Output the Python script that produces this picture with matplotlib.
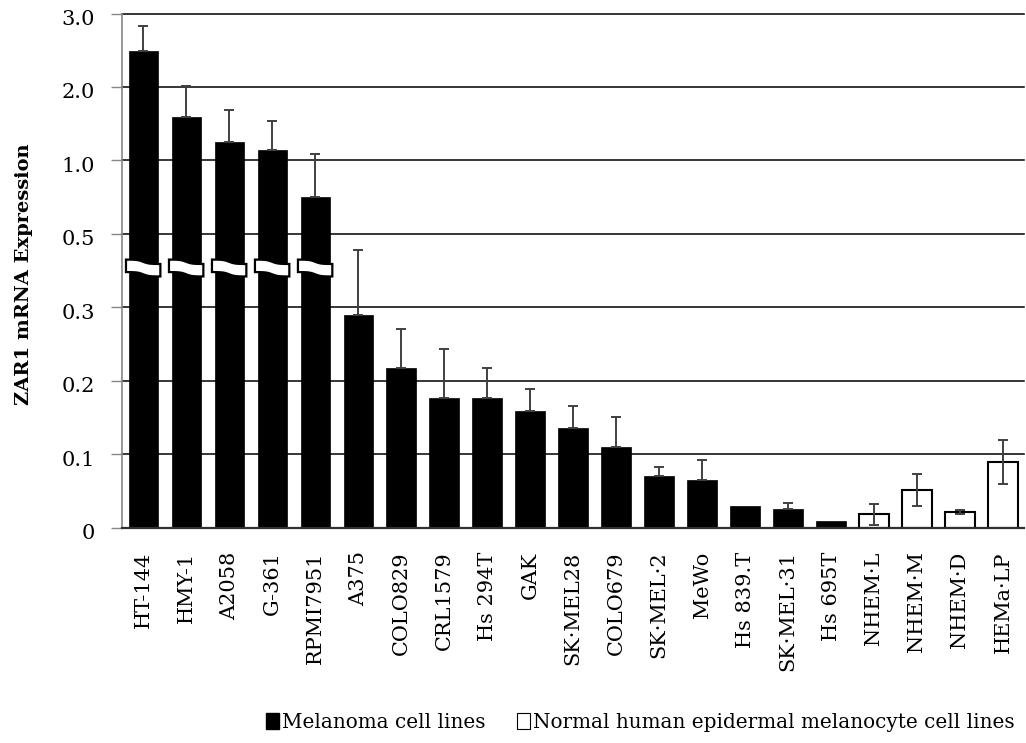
import numpy as np
import matplotlib.pyplot as plt
from matplotlib.patches import Patch, Polygon
from matplotlib.transforms import ScaledTranslation

plt.rcParams['font.family'] = ['DejaVu Serif']

# cell lines, mean expression and upper error
cell_lines = ["HT-144", "HMY-1", "A2058", "G-361", "RPMI7951", "A375", "COLO829",
              "CRL1579", "Hs 294T", "GAK", "SK·MEL28", "COLO679", "SK·MEL·2", "MeWo",
              "Hs 839.T", "SK·MEL·31", "Hs 695T", "NHEM·L", "NHEM·M", "NHEM·D", "HEMa·LP"]
expression = [2.49, 1.59, 1.25, 1.14, 0.75, 0.29, 0.218, 0.176, 0.176, 0.159, 0.136,
              0.110, 0.071, 0.065, 0.029, 0.025, 0.009, 0.018, 0.051, 0.021, 0.090]
errors = [0.34, 0.43, 0.43, 0.40, 0.34, 0.165, 0.053, 0.067, 0.041, 0.030, 0.030,
          0.041, 0.012, 0.027, 0.0, 0.009, 0.0, 0.014, 0.022, 0.003, 0.030]
# 'M' = melanoma cell line, 'N' = normal melanocytes
groups = ['M'] * 17 + ['N'] * 4

# the y axis is compressed: equal spacing between these values
y_ticks = [0, 0.1, 0.2, 0.3, 0.5, 1.0, 2.0, 3.0]
y_ticklabels = ["0", "0.1", "0.2", "0.3", "0.5", "1.0", "2.0", "3.0"]
scale_v = np.array([-0.1] + y_ticks + [4.0])
scale_d = np.arange(-1, len(y_ticks) + 1, dtype=float)


def to_axis(v):
    return np.interp(v, scale_v, scale_d)


def from_axis(d):
    return np.interp(d, scale_d, scale_v)


fig = plt.figure(figsize=(10.26, 7.43), dpi=100)
ax = fig.add_axes([0.1186, 0.2898, 0.8799, 0.692])
ax.set_yscale('function', functions=(to_axis, from_axis))

x = np.arange(len(cell_lines))
width = 0.68
for i in range(len(x)):
    if groups[i] == 'M':
        ax.bar(x[i], expression[i], width, color='black', edgecolor='black',
               linewidth=0.5, zorder=2)
        if errors[i] > 0:
            ax.errorbar(x[i], expression[i], yerr=[[0], [errors[i]]], fmt='none',
                        ecolor='#404040', elinewidth=1.4, capsize=3.5,
                        capthick=1.4, zorder=3)
    else:
        ax.bar(x[i], expression[i], width, color='white', edgecolor='black',
               linewidth=1.5, zorder=2)
        ax.errorbar(x[i], expression[i], yerr=errors[i], fmt='none',
                    ecolor='#404040', elinewidth=1.4, capsize=3.5,
                    capthick=1.4, zorder=3)

# break marks on the bars that run past 0.3
t = np.linspace(0, 1, 30)
shift = -0.03 * np.tanh(6 * (t - 0.5))
centre, half = 3.535, 0.085
for i in range(len(x)):
    if expression[i] > 0.5:
        xs = x[i] - width / 2 - 0.06 + t * (width + 0.12)
        top = from_axis(centre + half + shift)
        bot = from_axis(centre - half + shift)
        pts = np.column_stack([np.concatenate([xs, xs[::-1]]),
                               np.concatenate([top, bot[::-1]])])
        ax.add_patch(Polygon(pts, closed=True, facecolor='white',
                             edgecolor='black', linewidth=1.6, zorder=4))

ax.set_xlim(-0.5, len(x) - 0.5)
ax.set_ylim(0, 3.0)
ax.set_yticks(y_ticks)
ax.set_yticklabels(y_ticklabels, fontsize=15)
ax.set_xticks(x)
ax.set_xticklabels(cell_lines, rotation=90, fontsize=15)
ax.tick_params(axis='x', length=0, pad=17)
ax.tick_params(axis='y', length=8, width=1, color='#868686', pad=11)
for lab in ax.get_yticklabels():
    lab.set_transform(lab.get_transform() + ScaledTranslation(0, -0.04, fig.dpi_scale_trans))

ax.yaxis.grid(True, color='black', linewidth=1.1, zorder=0)
for line in ax.get_ygridlines():
    line.set_clip_on(False)
ax.set_axisbelow(True)
for side in ['top', 'right']:
    ax.spines[side].set_visible(False)
ax.spines['left'].set_color('#868686')
ax.spines['left'].set_linewidth(1.2)
ax.spines['bottom'].set_color('#303030')
ax.spines['bottom'].set_linewidth(1.6)

fig.text(0.023, 0.631, "ZAR1 mRNA Expression", rotation=90, fontsize=14,
         fontweight='bold', ha='center', va='center')

handles = [Patch(facecolor='black', edgecolor='black'),
           Patch(facecolor='white', edgecolor='black', linewidth=0.8)]
fig.legend(handles, ["Melanoma cell lines", "Normal human epidermal melanocyte cell lines"],
           loc='center', bbox_to_anchor=(0.624, 0.028), ncol=2, frameon=False,
           fontsize=14.4, handlelength=0.65, handleheight=0.9, handletextpad=0.15,
           columnspacing=1.6)

fig.savefig('out.png', dpi=100)
